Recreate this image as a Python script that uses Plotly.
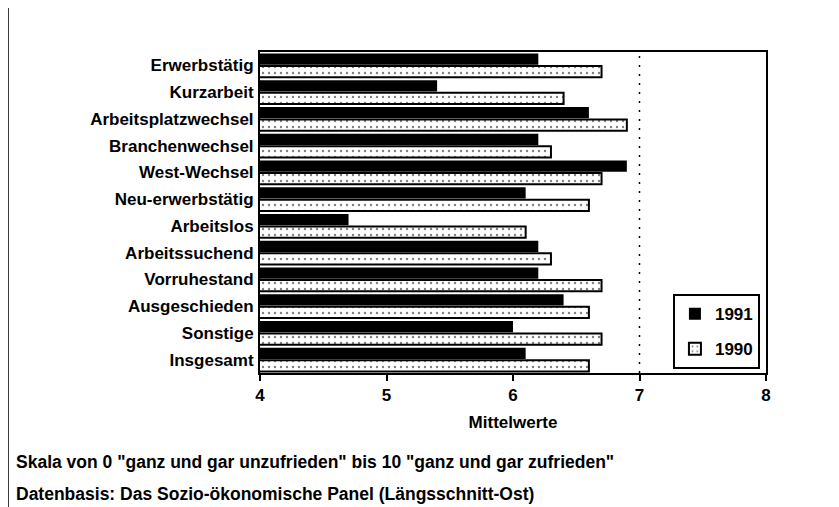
import plotly.graph_objects as go

categories = ["Erwerbstätig", "Kurzarbeit", "Arbeitsplatzwechsel", "Branchenwechsel",
              "West-Wechsel", "Neu-erwerbstätig", "Arbeitslos", "Arbeitssuchend",
              "Vorruhestand", "Ausgeschieden", "Sonstige", "Insgesamt"]
values_1991 = [6.2, 5.4, 6.6, 6.2, 6.9, 6.1, 4.7, 6.2, 6.2, 6.4, 6.0, 6.1]
values_1990 = [6.7, 6.4, 6.9, 6.3, 6.7, 6.6, 6.1, 6.3, 6.7, 6.6, 6.7, 6.6]
series_names = ["1991", "1990"]
x_ticks = [4, 5, 6, 7, 8]
ref_line = 7
axis_title = "Mittelwerte"
note_1 = 'Skala von 0 "ganz und gar unzufrieden" bis 10 "ganz und gar zufrieden"'
note_2 = "Datenbasis: Das Sozio-ökonomische Panel (Längsschnitt-Ost)"

FONT = "Liberation Sans, Arial, sans-serif"
TXT = dict(family=FONT, size=17, color="black", weight="bold")
NOTE = dict(family=FONT, size=17.5, color="black", weight="bold")

fig = go.Figure()
fig.add_trace(go.Bar(
    y=categories, x=values_1991, orientation="h", name=series_names[0],
    marker=dict(color="black", line=dict(color="black", width=0)),
    legendgroup="a",
))
fig.add_trace(go.Bar(
    y=categories, x=values_1990, orientation="h", name=series_names[1],
    marker=dict(color="white", line=dict(color="black", width=2),
                pattern=dict(shape=".", fgcolor="black", bgcolor="white",
                             size=6, solidity=0.12)),
    legendgroup="b",
))

fig.add_shape(type="line", xref="x", yref="paper", x0=ref_line, x1=ref_line, y0=0, y1=1,
              line=dict(color="black", width=1.5, dash="2px,7px"))

# outer left border of the figure
fig.add_shape(type="line", xref="paper", yref="paper",
              x0=-0.498, x1=-0.498, y0=-0.42, y1=1.14,
              line=dict(color="black", width=1.5))

fig.add_annotation(text=note_1, xref="paper", yref="paper", x=-0.486, y=-0.277,
                   xanchor="left", yanchor="middle", showarrow=False, font=NOTE)
fig.add_annotation(text=note_2, xref="paper", yref="paper", x=-0.486, y=-0.377,
                   xanchor="left", yanchor="middle", showarrow=False, font=NOTE)

fig.update_layout(
    width=831, height=499,
    margin=dict(l=252, r=73, t=44, b=134),
    paper_bgcolor="white", plot_bgcolor="white",
    barmode="group", bargap=0.06, bargroupgap=0.1,
    font=TXT,
    showlegend=True,
    legend=dict(x=0.988, y=0.012, xanchor="right", yanchor="bottom",
                bordercolor="black", borderwidth=2, bgcolor="white",
                font=TXT, tracegroupgap=10, traceorder="grouped"),
    xaxis=dict(range=[4, 8], tickvals=x_ticks, showgrid=False, zeroline=False,
               showline=True, linecolor="black", linewidth=2, mirror=True,
               ticks="outside", ticklen=6, tickwidth=1.5, tickcolor="black",
               tickfont=TXT,
               title=dict(text=axis_title, font=TXT, standoff=12)),
    yaxis=dict(autorange="reversed", showgrid=False, zeroline=False,
               showline=True, linecolor="black", linewidth=2, mirror=True,
               ticks="", ticklabelstandoff=1, tickfont=TXT),
)

fig.write_html("out.html")
